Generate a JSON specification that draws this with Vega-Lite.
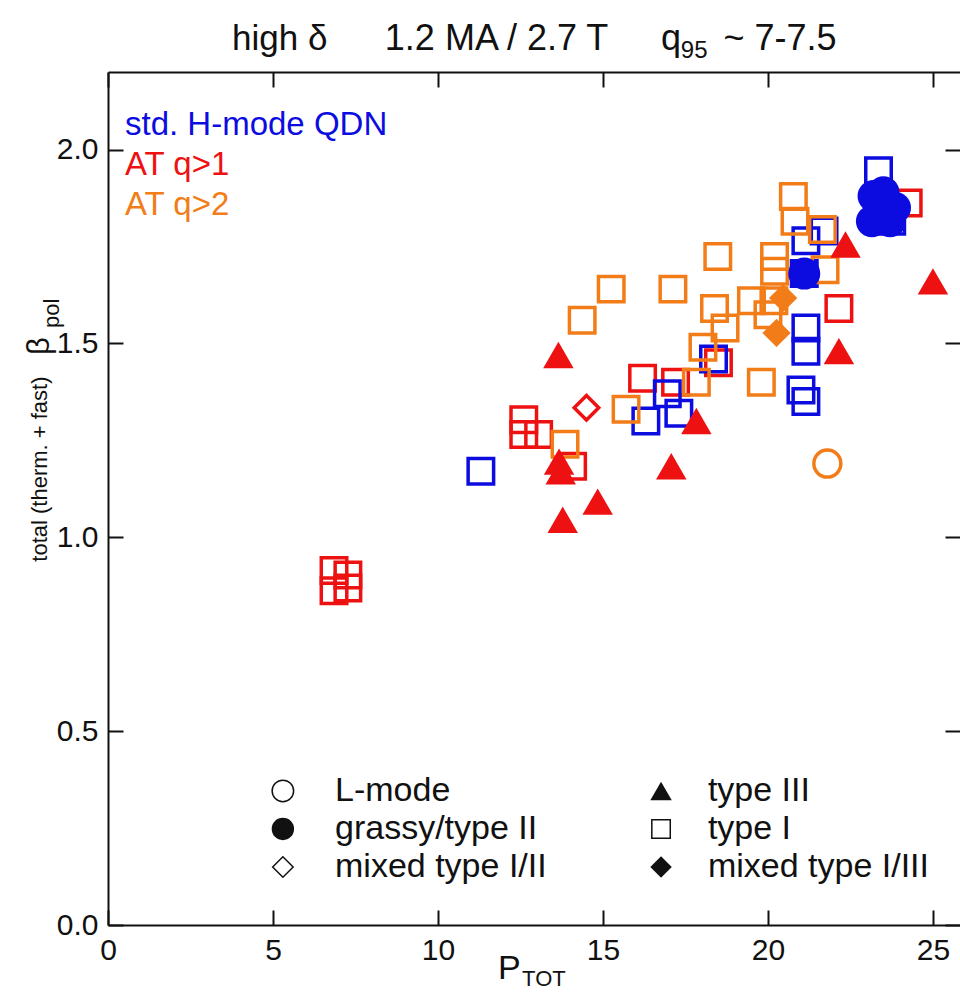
{
  "$schema": "https://vega.github.io/schema/vega-lite/v6.json",
  "width": 852,
  "height": 853,
  "autosize": {"type": "none"},
  "padding": {"left": 108, "top": 72, "right": 0, "bottom": 67},
  "background": "white",
  "config": {
    "view": {"stroke": null},
    "font": "Liberation Sans",
    "axis": {
      "grid": false,
      "domainColor": "#111",
      "domainWidth": 2,
      "tickColor": "#111",
      "tickWidth": 2,
      "tickSize": -15,
      "labelFont": "Liberation Sans",
      "labelFontSize": 30,
      "labelColor": "#111",
      "labelPadding": 25,
      "labelFlush": false,
      "labelOverlap": false,
      "title": null
    }
  },
  "data": {
    "values": [
      {"P": 6.85, "beta": 0.914, "series": "AT q>1", "type": "type I"},
      {"P": 7.27, "beta": 0.903, "series": "AT q>1", "type": "type I"},
      {"P": 6.85, "beta": 0.862, "series": "AT q>1", "type": "type I"},
      {"P": 7.27, "beta": 0.869, "series": "AT q>1", "type": "type I"},
      {"P": 12.6, "beta": 1.303, "series": "AT q>1", "type": "type I"},
      {"P": 12.6, "beta": 1.265, "series": "AT q>1", "type": "type I"},
      {"P": 13.05, "beta": 1.265, "series": "AT q>1", "type": "type I"},
      {"P": 14.08, "beta": 1.183, "series": "AT q>1", "type": "type I"},
      {"P": 16.2, "beta": 1.41, "series": "AT q>1", "type": "type I"},
      {"P": 17.2, "beta": 1.4, "series": "AT q>1", "type": "type I"},
      {"P": 18.5, "beta": 1.45, "series": "AT q>1", "type": "type I"},
      {"P": 22.15, "beta": 1.59, "series": "AT q>1", "type": "type I"},
      {"P": 24.25, "beta": 1.862, "series": "AT q>1", "type": "type I"},
      {"P": 14.5, "beta": 1.334, "series": "AT q>1", "type": "mixed type I/II"},
      {"P": 13.65, "beta": 1.47, "series": "AT q>1", "type": "type III"},
      {"P": 13.67, "beta": 1.195, "series": "AT q>1", "type": "type III"},
      {"P": 13.72, "beta": 1.17, "series": "AT q>1", "type": "type III"},
      {"P": 13.78, "beta": 1.045, "series": "AT q>1", "type": "type III"},
      {"P": 14.84, "beta": 1.092, "series": "AT q>1", "type": "type III"},
      {"P": 17.07, "beta": 1.183, "series": "AT q>1", "type": "type III"},
      {"P": 17.83, "beta": 1.3, "series": "AT q>1", "type": "type III"},
      {"P": 22.15, "beta": 1.48, "series": "AT q>1", "type": "type III"},
      {"P": 22.35, "beta": 1.755, "series": "AT q>1", "type": "type III"},
      {"P": 25.0, "beta": 1.66, "series": "AT q>1", "type": "type III"},
      {"P": 11.3, "beta": 1.17, "series": "std. H-mode QDN", "type": "type I"},
      {"P": 16.3, "beta": 1.3, "series": "std. H-mode QDN", "type": "type I"},
      {"P": 16.95, "beta": 1.37, "series": "std. H-mode QDN", "type": "type I"},
      {"P": 17.3, "beta": 1.32, "series": "std. H-mode QDN", "type": "type I"},
      {"P": 18.35, "beta": 1.46, "series": "std. H-mode QDN", "type": "type I"},
      {"P": 21.0, "beta": 1.38, "series": "std. H-mode QDN", "type": "type I"},
      {"P": 21.15, "beta": 1.35, "series": "std. H-mode QDN", "type": "type I"},
      {"P": 21.15, "beta": 1.48, "series": "std. H-mode QDN", "type": "type I"},
      {"P": 21.15, "beta": 1.54, "series": "std. H-mode QDN", "type": "type I"},
      {"P": 21.1, "beta": 1.68, "series": "std. H-mode QDN", "type": "type I"},
      {"P": 21.15, "beta": 1.765, "series": "std. H-mode QDN", "type": "type I"},
      {"P": 21.7, "beta": 1.79, "series": "std. H-mode QDN", "type": "type I"},
      {"P": 23.35, "beta": 1.945, "series": "std. H-mode QDN", "type": "type I"},
      {"P": 23.75, "beta": 1.815, "series": "std. H-mode QDN", "type": "type I"},
      {"P": 21.1, "beta": 1.68, "series": "std. H-mode QDN", "type": "grassy/type II"},
      {"P": 23.2, "beta": 1.88, "series": "std. H-mode QDN", "type": "grassy/type II"},
      {"P": 23.5, "beta": 1.89, "series": "std. H-mode QDN", "type": "grassy/type II"},
      {"P": 23.85, "beta": 1.85, "series": "std. H-mode QDN", "type": "grassy/type II"},
      {"P": 23.15, "beta": 1.815, "series": "std. H-mode QDN", "type": "grassy/type II"},
      {"P": 23.7, "beta": 1.815, "series": "std. H-mode QDN", "type": "grassy/type II"},
      {"P": 13.85, "beta": 1.24, "series": "AT q>2", "type": "type I"},
      {"P": 14.37, "beta": 1.56, "series": "AT q>2", "type": "type I"},
      {"P": 15.25, "beta": 1.64, "series": "AT q>2", "type": "type I"},
      {"P": 15.7, "beta": 1.33, "series": "AT q>2", "type": "type I"},
      {"P": 17.12, "beta": 1.64, "series": "AT q>2", "type": "type I"},
      {"P": 17.83, "beta": 1.4, "series": "AT q>2", "type": "type I"},
      {"P": 18.03, "beta": 1.49, "series": "AT q>2", "type": "type I"},
      {"P": 18.38, "beta": 1.59, "series": "AT q>2", "type": "type I"},
      {"P": 18.48, "beta": 1.724, "series": "AT q>2", "type": "type I"},
      {"P": 18.7, "beta": 1.54, "series": "AT q>2", "type": "type I"},
      {"P": 19.5, "beta": 1.61, "series": "AT q>2", "type": "type I"},
      {"P": 19.8, "beta": 1.4, "series": "AT q>2", "type": "type I"},
      {"P": 20.0, "beta": 1.574, "series": "AT q>2", "type": "type I"},
      {"P": 20.18, "beta": 1.61, "series": "AT q>2", "type": "type I"},
      {"P": 20.2, "beta": 1.724, "series": "AT q>2", "type": "type I"},
      {"P": 20.2, "beta": 1.686, "series": "AT q>2", "type": "type I"},
      {"P": 20.77, "beta": 1.879, "series": "AT q>2", "type": "type I"},
      {"P": 20.82, "beta": 1.815, "series": "AT q>2", "type": "type I"},
      {"P": 21.65, "beta": 1.794, "series": "AT q>2", "type": "type I"},
      {"P": 21.73, "beta": 1.69, "series": "AT q>2", "type": "type I"},
      {"P": 20.46, "beta": 1.617, "series": "AT q>2", "type": "mixed type I/III"},
      {"P": 20.26, "beta": 1.527, "series": "AT q>2", "type": "mixed type I/III"},
      {"P": 21.8, "beta": 1.19, "series": "AT q>2", "type": "L-mode"}
    ]
  },
  "layer": [
    {
      "transform": [{"filter": "datum.type !== 'grassy/type II' && datum.type !== 'type III' && datum.type !== 'mixed type I/III'"}],
      "mark": {"type": "point", "filled": false, "strokeWidth": 3.5, "opacity": 1},
      "encoding": {
        "x": {"field": "P", "type": "quantitative", "scale": {"domain": [0, 25.82], "nice": false, "zero": false},
              "axis": {"orient": "bottom", "values": [0, 5, 10, 15, 20, 25], "format": "d"}},
        "y": {"field": "beta", "type": "quantitative", "scale": {"domain": [0, 2.2], "nice": false, "zero": false},
              "axis": {"orient": "left", "values": [0, 0.5, 1, 1.5, 2], "format": ".1f"}},
        "color": {
          "field": "series", "type": "nominal",
          "scale": {"domain": ["std. H-mode QDN", "AT q>1", "AT q>2"], "range": ["#0c0ce0", "#ee1111", "#f27d18"]},
          "legend": {
            "orient": "none", "legendX": -16, "legendY": 36, "title": null,
            "symbolOpacity": 0, "symbolSize": 1, "symbolStrokeWidth": 0, "labelOffset": 0,
            "labelFont": "Liberation Sans", "labelFontSize": 33, "labelLimit": 500, "rowPadding": 6,
            "labelColor": {"expr": "datum.value === 'AT q>1' ? '#ee1111' : datum.value === 'AT q>2' ? '#f27d18' : '#0c0ce0'"},
            "encode": {"labels": {"fill": {"condition": [
              {"test": "datum.value === 'AT q>1'", "value": "#ee1111"},
              {"test": "datum.value === 'AT q>2'", "value": "#f27d18"}
            ], "value": "#0c0ce0"}}}
          }
        },
        "shape": {
          "field": "type", "type": "nominal", "legend": null,
          "scale": {
            "domain": ["L-mode", "grassy/type II", "mixed type I/II", "type III", "type I", "mixed type I/III"],
            "range": ["circle", "circle", "diamond", "triangle-up", "square", "diamond"]
          }
        },
        "size": {
          "field": "type", "type": "nominal", "legend": null,
          "scale": {"type": "ordinal",
            "domain": ["L-mode", "grassy/type II", "mixed type I/II", "type III", "type I", "mixed type I/III"],
            "range": [730, 1024, 600, 930, 650, 800]}
        }
      }
    },
    {
      "transform": [{"filter": "datum.type === 'grassy/type II' || datum.type === 'type III' || datum.type === 'mixed type I/III'"}],
      "mark": {"type": "point", "filled": true, "opacity": 1},
      "encoding": {
        "x": {"field": "P", "type": "quantitative", "axis": {"orient": "top", "values": [0, 5, 10, 15, 20, 25], "labels": false}},
        "y": {"field": "beta", "type": "quantitative", "axis": {"orient": "right", "values": [0, 0.5, 1, 1.5, 2], "labels": false, "domain": false}},
        "color": {"field": "series", "type": "nominal"},
        "shape": {"field": "type", "type": "nominal", "legend": null},
        "size": {
          "field": "type", "type": "nominal", "legend": null,
          "scale": {"type": "ordinal",
            "domain": ["L-mode", "grassy/type II", "mixed type I/II", "type III", "type I", "mixed type I/III"],
            "range": [730, 1024, 600, 930, 650, 800]}
        }
      }
    },
    {
      "data": {"values": [{}]},
      "mark": {"type": "point", "shape": "circle", "filled": false, "size": 460, "strokeWidth": 1.5, "color": "#111", "opacity": 1},
      "encoding": {"x": {"datum": 5.3, "type": "quantitative", "axis": null}, "y": {"datum": 0.3458, "type": "quantitative", "axis": null}}
    },
    {
      "data": {"values": [{}]},
      "mark": {"type": "point", "shape": "circle", "filled": true, "size": 500, "color": "#111", "opacity": 1},
      "encoding": {"x": {"datum": 5.3, "type": "quantitative", "axis": null}, "y": {"datum": 0.2477, "type": "quantitative", "axis": null}}
    },
    {
      "data": {"values": [{}]},
      "mark": {"type": "point", "shape": "diamond", "filled": false, "size": 420, "strokeWidth": 1.5, "color": "#111", "opacity": 1},
      "encoding": {"x": {"datum": 5.3, "type": "quantitative", "axis": null}, "y": {"datum": 0.1497, "type": "quantitative", "axis": null}}
    },
    {
      "data": {"values": [{}]},
      "mark": {"type": "point", "shape": "triangle-up", "filled": true, "size": 460, "color": "#111", "opacity": 1},
      "encoding": {"x": {"datum": 16.76, "type": "quantitative", "axis": null}, "y": {"datum": 0.3458, "type": "quantitative", "axis": null}}
    },
    {
      "data": {"values": [{}]},
      "mark": {"type": "point", "shape": "square", "filled": false, "size": 340, "strokeWidth": 1.5, "color": "#111", "opacity": 1},
      "encoding": {"x": {"datum": 16.76, "type": "quantitative", "axis": null}, "y": {"datum": 0.2477, "type": "quantitative", "axis": null}}
    },
    {
      "data": {"values": [{}]},
      "mark": {"type": "point", "shape": "diamond", "filled": true, "size": 460, "color": "#111", "opacity": 1},
      "encoding": {"x": {"datum": 16.76, "type": "quantitative", "axis": null}, "y": {"datum": 0.1497, "type": "quantitative", "axis": null}}
    },
    {
      "data": {"values": [{}]},
      "mark": {"type": "text", "align": "left", "baseline": "middle", "fontSize": 34, "lineHeight": 38, "font": "Liberation Sans", "color": "#111"},
      "encoding": {"x": {"datum": 6.88, "type": "quantitative", "axis": null}, "y": {"datum": 0.3458, "type": "quantitative", "axis": null},
                   "text": {"value": ["L-mode", "grassy/type II", "mixed type I/II"]}}
    },
    {
      "data": {"values": [{}]},
      "mark": {"type": "text", "align": "left", "baseline": "middle", "fontSize": 34, "lineHeight": 38, "font": "Liberation Sans", "color": "#111"},
      "encoding": {"x": {"datum": 18.18, "type": "quantitative", "axis": null}, "y": {"datum": 0.3458, "type": "quantitative", "axis": null},
                   "text": {"value": ["type III", "type I", "mixed type I/III"]}}
    },
    {
      "data": {"values": [{}]},
      "mark": {"type": "text", "align": "left", "baseline": "alphabetic", "fontSize": 35, "font": "Liberation Sans", "color": "#111"},
      "encoding": {"x": {"datum": 3.76, "type": "quantitative", "axis": null}, "y": {"datum": 2.258, "type": "quantitative", "axis": null}, "text": {"value": "high δ"}}
    },
    {
      "data": {"values": [{}]},
      "mark": {"type": "text", "align": "left", "baseline": "alphabetic", "fontSize": 36, "font": "Liberation Sans", "color": "#111"},
      "encoding": {"x": {"datum": 8.39, "type": "quantitative", "axis": null}, "y": {"datum": 2.258, "type": "quantitative", "axis": null}, "text": {"value": "1.2 MA / 2.7 T"}}
    },
    {
      "data": {"values": [{}]},
      "mark": {"type": "text", "align": "left", "baseline": "alphabetic", "fontSize": 36, "font": "Liberation Sans", "color": "#111"},
      "encoding": {"x": {"datum": 16.76, "type": "quantitative", "axis": null}, "y": {"datum": 2.258, "type": "quantitative", "axis": null}, "text": {"value": "q"}}
    },
    {
      "data": {"values": [{}]},
      "mark": {"type": "text", "align": "left", "baseline": "alphabetic", "fontSize": 24, "font": "Liberation Sans", "color": "#111"},
      "encoding": {"x": {"datum": 17.36, "type": "quantitative", "axis": null}, "y": {"datum": 2.235, "type": "quantitative", "axis": null}, "text": {"value": "95"}}
    },
    {
      "data": {"values": [{}]},
      "mark": {"type": "text", "align": "left", "baseline": "alphabetic", "fontSize": 36, "font": "Liberation Sans", "color": "#111"},
      "encoding": {"x": {"datum": 18.65, "type": "quantitative", "axis": null}, "y": {"datum": 2.258, "type": "quantitative", "axis": null}, "text": {"value": "~ 7-7.5"}}
    },
    {
      "data": {"values": [{}]},
      "mark": {"type": "text", "align": "left", "baseline": "alphabetic", "fontSize": 34, "font": "Liberation Sans", "color": "#111"},
      "encoding": {"x": {"datum": 11.82, "type": "quantitative", "axis": null}, "y": {"datum": -0.139, "type": "quantitative", "axis": null}, "text": {"value": "P"}}
    },
    {
      "data": {"values": [{}]},
      "mark": {"type": "text", "align": "left", "baseline": "alphabetic", "fontSize": 22, "font": "Liberation Sans", "color": "#111"},
      "encoding": {"x": {"datum": 12.55, "type": "quantitative", "axis": null}, "y": {"datum": -0.157, "type": "quantitative", "axis": null}, "text": {"value": "TOT"}}
    },
    {
      "data": {"values": [{}]},
      "mark": {"type": "text", "align": "left", "baseline": "middle", "angle": 270, "fontSize": 22, "font": "Liberation Sans", "color": "#111"},
      "encoding": {"x": {"datum": -2.06, "type": "quantitative", "axis": null}, "y": {"datum": 0.937, "type": "quantitative", "axis": null}, "text": {"value": "total (therm. + fast)"}}
    },
    {
      "data": {"values": [{}]},
      "mark": {"type": "text", "align": "left", "baseline": "middle", "angle": 270, "fontSize": 31, "font": "Liberation Sans", "color": "#111"},
      "encoding": {"x": {"datum": -2.06, "type": "quantitative", "axis": null}, "y": {"datum": 1.47, "type": "quantitative", "axis": null}, "text": {"value": "β"}}
    },
    {
      "data": {"values": [{}]},
      "mark": {"type": "text", "align": "left", "baseline": "middle", "angle": 270, "fontSize": 22, "font": "Liberation Sans", "color": "#111"},
      "encoding": {"x": {"datum": -1.7, "type": "quantitative", "axis": null}, "y": {"datum": 1.54, "type": "quantitative", "axis": null}, "text": {"value": "pol"}}
    }
  ]
}
